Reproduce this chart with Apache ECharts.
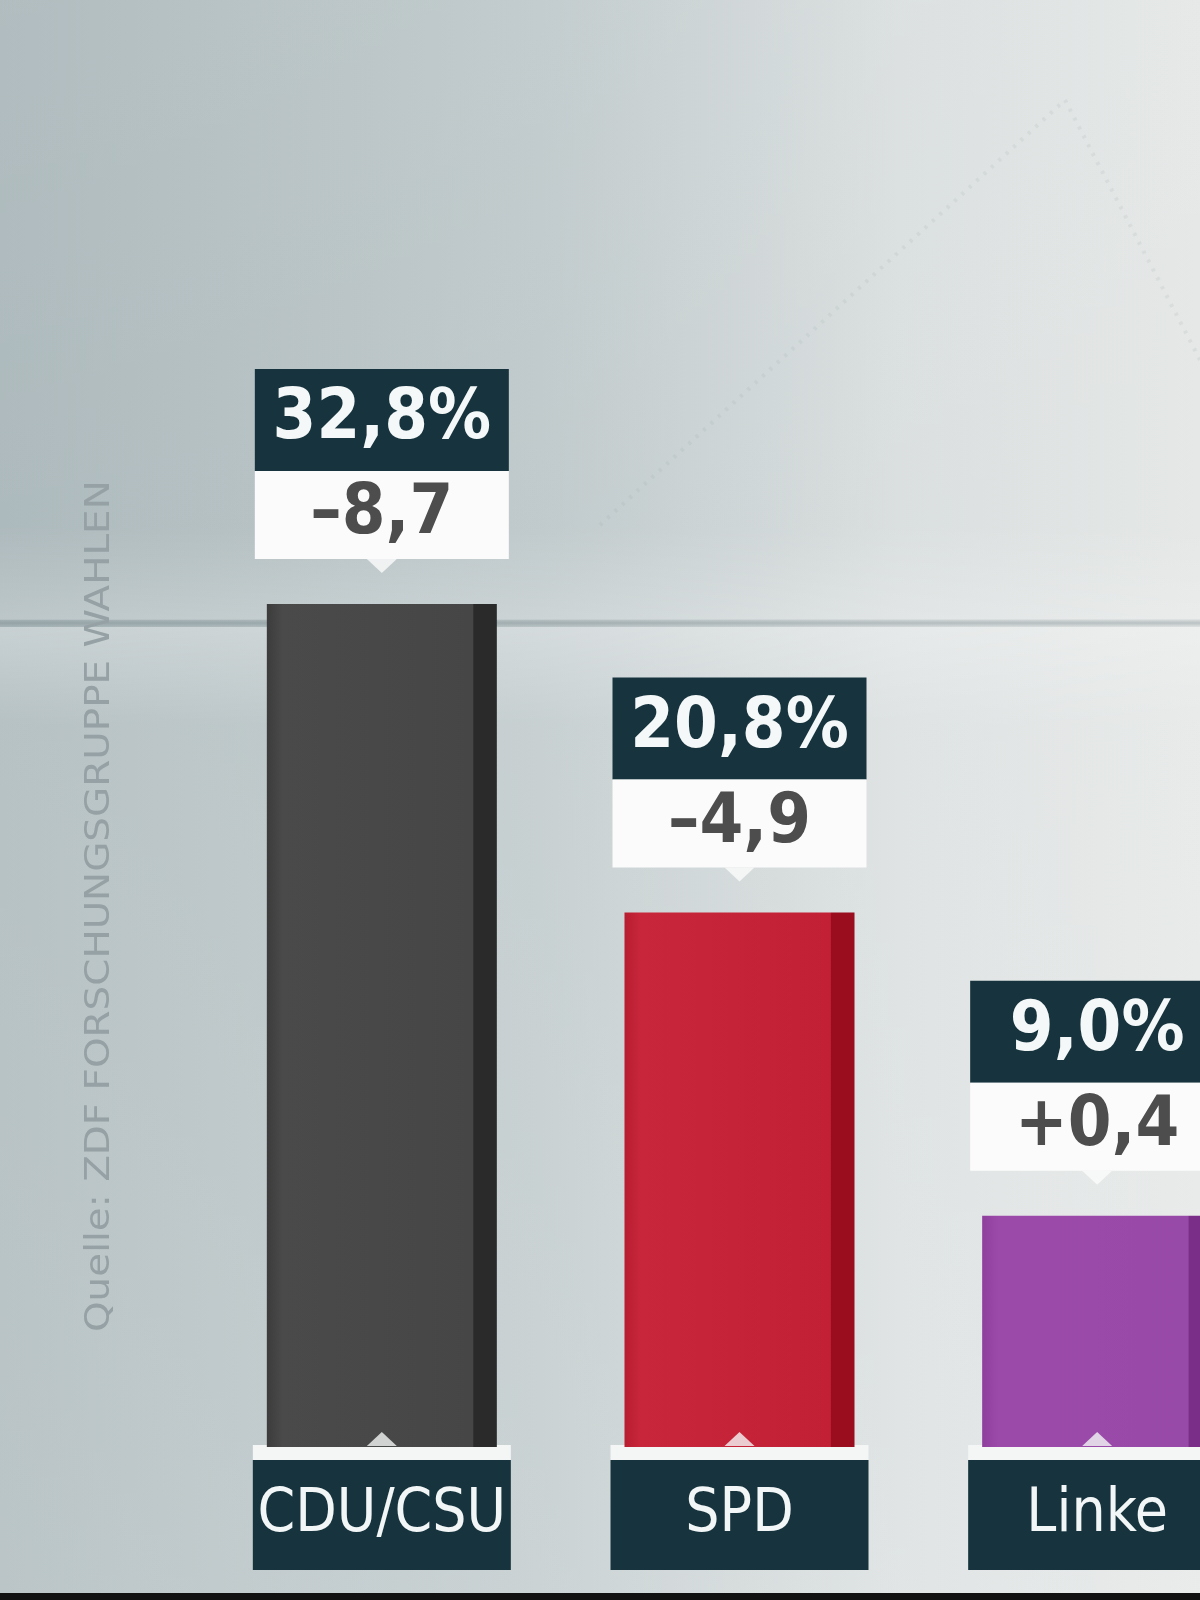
<!DOCTYPE html>
<html>
<head>
<meta charset="utf-8">
<script src="https://cdn.jsdelivr.net/npm/echarts@6/dist/echarts.min.js"></script>
<style>
html,body{margin:0;padding:0;background:#d4dadb;}
#chart{width:1200px;height:1600px;}
</style>
</head>
<body>
<div id="chart"></div>
<script>
// ---- data ----
var categories = ['CDU/CSU', 'SPD', 'Linke'];
var shares = [32.8, 20.8, 9.0];
var changes = ['–8,7', '–4,9', '+0,4'];
var shareLabels = ['32,8%', '20,8%', '9,0%'];
var barColors = [
  ['#3c3c3c', '#4a4a4a', '#464646', '#2a2a2a'],
  ['#b81c2f', '#c8273b', '#c22034', '#9a0d1e'],
  ['#8e3f9c', '#9c4aaa', '#984aa8', '#7a2e88']
];
var sourceText = 'Quelle: ZDF FORSCHUNGSGRUPPE WAHLEN';

var FONT = '"DejaVu Sans Condensed", "DejaVu Sans", sans-serif';
var chart = echarts.init(document.getElementById('chart'));

function barGradient(c) {
  return {
    type: 'linear', x: 0, y: 0, x2: 1, y2: 0,
    colorStops: [
      {offset: 0, color: c[0]},
      {offset: 0.07, color: c[1]},
      {offset: 0.895, color: c[2]},
      {offset: 0.9, color: c[3]},
      {offset: 1, color: c[3]}
    ]
  };
}

var barData = shares.map(function (v, i) {
  return {
    value: v,
    itemStyle: {color: barGradient(barColors[i])},
    label: {
      formatter: '{a|' + shareLabels[i] + '}\n{b|' + changes[i] + '}'
    }
  };
});

var option = {
  backgroundColor: {
    type: 'linear', x: 0, y: 0, x2: 1, y2: 0,
    colorStops: [
      {offset: 0, color: '#aab7ba'},
      {offset: 0.45, color: '#bec8ca'},
      {offset: 0.75, color: '#d9dede'},
      {offset: 1, color: '#e4e7e6'}
    ]
  },
  animation: false,
  graphic: [
    {
      type: 'rect', z: -10, silent: true,
      shape: {x: 0, y: 0, width: 1200, height: 620},
      style: {fill: {
        type: 'linear', x: 0, y: 0, x2: 0, y2: 1,
        colorStops: [
          {offset: 0, color: 'rgba(255,255,255,0.08)'},
          {offset: 0.85, color: 'rgba(255,255,255,0.04)'},
          {offset: 1, color: 'rgba(255,255,255,0.22)'}
        ]
      }}
    },
    {
      type: 'rect', z: -10, silent: true,
      shape: {x: 0, y: 619, width: 1200, height: 8},
      style: {fill: {
        type: 'linear', x: 0, y: 0, x2: 0, y2: 1,
        colorStops: [
          {offset: 0, color: 'rgba(110,125,130,0.05)'},
          {offset: 0.5, color: 'rgba(110,125,130,0.35)'},
          {offset: 1, color: 'rgba(110,125,130,0.05)'}
        ]
      }}
    },
    {
      type: 'rect', z: -10, silent: true,
      shape: {x: 0, y: 627, width: 1200, height: 973},
      style: {fill: {
        type: 'linear', x: 0, y: 0, x2: 0, y2: 1,
        colorStops: [
          {offset: 0, color: 'rgba(255,255,255,0.35)'},
          {offset: 0.1, color: 'rgba(255,255,255,0.15)'},
          {offset: 1, color: 'rgba(255,255,255,0.2)'}
        ]
      }}
    },
    {
      type: 'polyline', z: -9, silent: true,
      shape: {points: [[600, 525], [1065, 100], [1200, 360]]},
      style: {stroke: 'rgba(150,160,160,0.14)', lineWidth: 4, lineDash: [3, 7], fill: null}
    },
    {
      type: 'rect', z: -10, silent: true,
      shape: {x: 0, y: 1593, width: 1200, height: 7},
      style: {fill: '#111'}
    },
    {
      type: 'text', silent: true,
      x: 100, y: 1332, rotation: Math.PI / 2, scaleX: 1.31,
      style: {
        text: sourceText,
        fill: '#95a1a4',
        font: 'normal 33px ' + FONT,
        textAlign: 'left',
        textVerticalAlign: 'middle'
      }
    }
  ],
  grid: {left: 203, width: 1073, top: 162, height: 1285, outerBoundsMode: 'none', containLabel: false},
  xAxis: {
    type: 'category',
    data: categories,
    axisLine: {show: false},
    axisTick: {show: false},
    axisLabel: {
      margin: -2,
      interval: 0,
      hideOverlap: false,
      formatter: function (v) { return '{s| }\n{a|' + v + '}'; },
      rich: {
        s: {backgroundColor: '#f4f6f6', width: 258, height: 15, fontSize: 10, lineHeight: 15},
        a: {
          backgroundColor: '#17343e', color: '#f2f6f6', width: 258, height: 110,
          lineHeight: 110, fontSize: 60, fontFamily: FONT, align: 'center'
        }
      }
    }
  },
  yAxis: {
    type: 'value', min: 0, max: 50, show: false,
    splitLine: {show: false}
  },
  series: [
    {
      type: 'bar',
      data: barData,
      barWidth: 230,
      z: 2,
      label: {
        show: true,
        position: 'top',
        distance: 45,
        rich: {
          a: {
            backgroundColor: '#17343e', color: '#f4f8f8', width: 254, height: 102,
            lineHeight: 102, fontSize: 70, fontWeight: 'bold', fontFamily: FONT, align: 'center'
          },
          b: {
            backgroundColor: '#fbfbfb', color: '#4d4d4d', width: 254, height: 88,
            lineHeight: 88, fontSize: 70, fontWeight: 'bold', fontFamily: FONT, align: 'center'
          }
        }
      }
    },
    {
      type: 'scatter',
      data: shares,
      symbol: 'path://M0,0L30,0L15,14Z',
      symbolSize: [30, 14],
      symbolOffset: [0, -38],
      itemStyle: {color: '#fbfbfb'},
      z: 5,
      silent: true
    },
    {
      type: 'scatter',
      data: shares.map(function () { return 0; }),
      symbol: 'path://M15,0L30,14L0,14Z',
      symbolSize: [30, 14],
      symbolOffset: [0, -8],
      itemStyle: {color: '#f4f6f6'},
      z: 5,
      silent: true
    }
  ]
};
chart.setOption(option);
</script>
</body>
</html>
